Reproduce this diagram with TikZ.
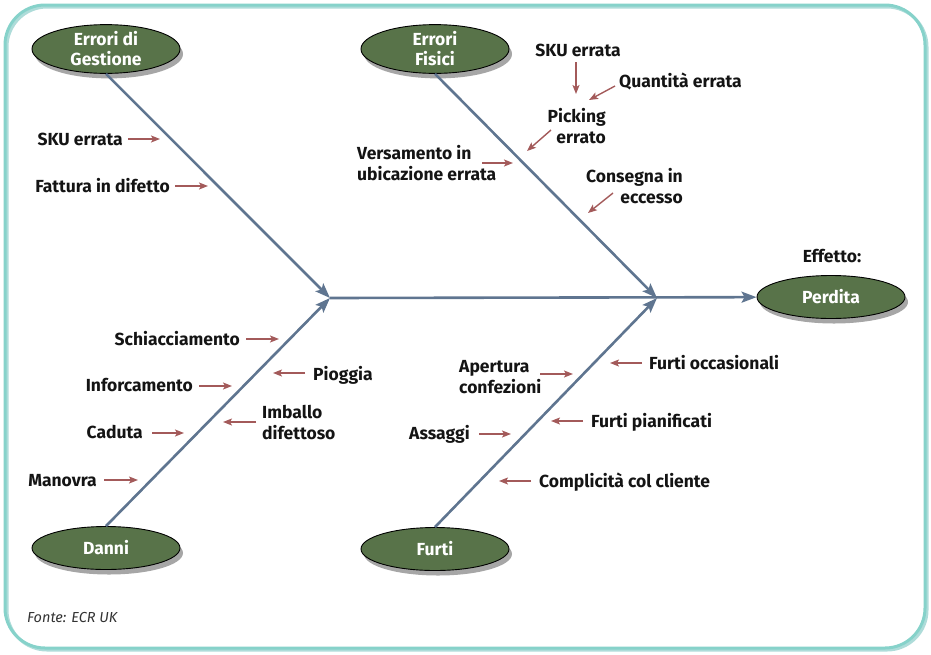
\documentclass[tikz,border=0pt]{standalone}
\usepackage{fontspec}
\setmainfont{Fira Sans}
\usetikzlibrary{arrows.meta,shadows,shapes.geometric}
\definecolor{bonec}{HTML}{5F7590}
\definecolor{causec}{HTML}{A35A5A}
\definecolor{eggc}{HTML}{587349}
\definecolor{framec}{HTML}{86D2CA}
\begin{document}
\begin{tikzpicture}[x=1pt,y=-1pt,
  lab/.style={font=\bfseries\fontsize{17.5}{21}\selectfont, inner sep=0pt, text=black!92},
  egg/.style={ellipse, draw=black, line width=0.9pt, fill=eggc, minimum width=148pt, minimum height=43pt,
    inner sep=0pt, text=white, align=center, font=\bfseries\fontsize{17.5}{20}\selectfont,
    drop shadow={shadow xshift=3pt, shadow yshift=-5pt, opacity=0.35, fill=black}},
  bonearrow/.style={draw=bonec, line width=2.6pt, -{Stealth[length=15pt,width=11pt,inset=3pt]}},
  causearrow/.style={draw=causec, line width=1.4pt, -{Stealth[length=9pt,width=7pt,inset=2pt]}}
]
\useasboundingbox (0,0) rectangle (931,654);
% frame
\draw[framec!70!teal, line width=3pt, rounded corners=40pt, opacity=0.5] (7,7) rectangle (927,650);
\draw[framec, line width=3pt, rounded corners=40pt] (5,5) rectangle (925,648);

% heads and effect
\node[egg] (gest) at (106,49) {Errori di\\Gestione};
\node[egg] (fis) at (435,49) {Errori\\Fisici};
\node[egg] (danni) at (106,548) {Danni};
\node[egg] (furti) at (435,549) {Furti};
\node[egg] (perdita) at (831,297) {Perdita};
\node[lab, anchor=base] (eff) at (832,262) {Effetto:};

% skeleton
\coordinate (j1) at (330,298);
\coordinate (j2) at (657,298);
\draw[bonearrow] (j1) -- (perdita);
\draw[bonearrow] (gest.south) -- (j1);
\draw[bonearrow] (danni.north) -- (j1);
\draw[bonearrow] (fis.south) -- (j2);
\draw[bonearrow] (furti.north) -- (j2);

% Errori di Gestione
\node[lab, anchor=base east] (sku1) at (123,145) {SKU errata};
\draw[causearrow] (128,139) -- (160,139);
\node[lab, anchor=base east] (fatt) at (170,192) {Fattura in difetto};
\draw[causearrow] (175,186) -- (208,186);

% Errori Fisici
\node[lab, anchor=base] (sku2) at (578,56) {SKU errata};
\draw[causearrow] (576,62) -- (576,94);
\node[lab, anchor=base west] (qta) at (619,87) {Quantità errata};
\draw[causearrow] (615,86) -- (589,100);
\node[lab, anchor=base east, align=right] (pick) at (606,143) {Picking\\errato};
\draw[causearrow] (551,130) -- (527,151);
\node[lab, anchor=base west, align=left] (vers) at (357,180) {Versamento in\\ubicazione errata};
\draw[causearrow] (482,163) -- (513,163);
\node[lab, anchor=base east, align=right] (cons) at (683,203) {Consegna in\\eccesso};
\draw[causearrow] (613,193) -- (588,213);

% Danni
\node[lab, anchor=base east] (schi) at (240,345) {Schiacciamento};
\draw[causearrow] (246,339) -- (279,339);
\node[lab, anchor=base west] (piog) at (313,380) {Pioggia};
\draw[causearrow] (305,373) -- (273,373);
\node[lab, anchor=base east] (inforc) at (193,391) {Inforcamento};
\draw[causearrow] (199,386) -- (232,386);
\node[lab, anchor=base west, align=left] (imb) at (262,439) {Imballo\\difettoso};
\draw[causearrow] (256,422) -- (223,422);
\node[lab, anchor=base east] (cad) at (143,438) {Caduta};
\draw[causearrow] (152,433) -- (184,433);
\node[lab, anchor=base east] (man) at (97,486) {Manovra};
\draw[causearrow] (104,480) -- (138,480);

% Furti
\node[lab, anchor=base west, align=left] (apert) at (459,393) {Apertura\\confezioni};
\draw[causearrow] (540,374) -- (573,374);
\node[lab, anchor=base west] (focc) at (649,369) {Furti occasionali};
\draw[causearrow] (642,363) -- (610,363);
\node[lab, anchor=base west] (fpian) at (591,427) {Furti pianificati};
\draw[causearrow] (583,421) -- (551,421);
\node[lab, anchor=base east] (ass) at (470,439) {Assaggi};
\draw[causearrow] (479,434) -- (511,434);
\node[lab, anchor=base west] (compl) at (539,487) {Complicità col cliente};
\draw[causearrow] (531,481) -- (499,481);

% source
\node[anchor=base west, inner sep=0pt, font=\itshape\fontsize{14.5}{18}\selectfont, text=black!80] (fonte) at (27,622) {Fonte: ECR UK};
\end{tikzpicture}
\end{document}
